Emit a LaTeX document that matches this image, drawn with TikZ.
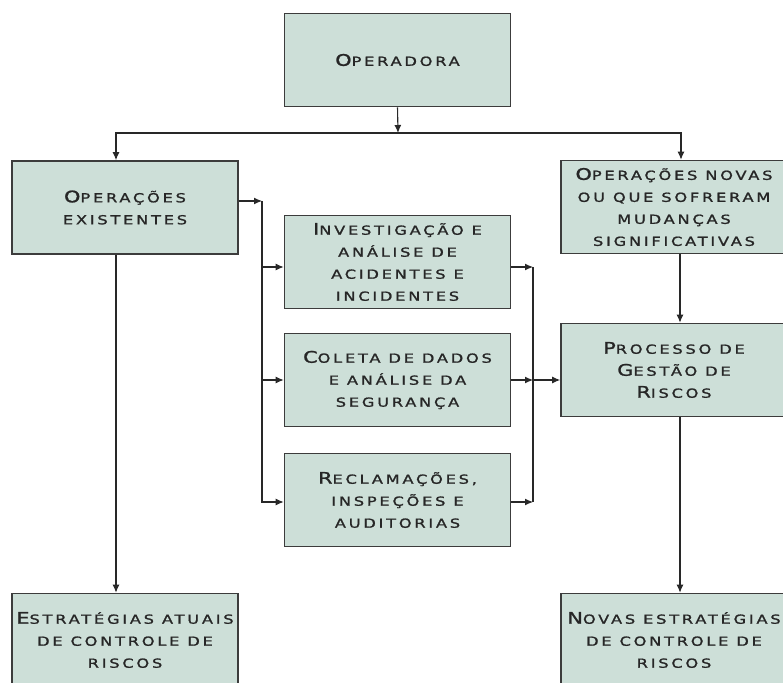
\documentclass[tikz,border=0pt]{standalone}
\usepackage{fontspec}
\usetikzlibrary{arrows.meta}
\newfontfamily\diafont[LetterSpace=22,FakeStretch=1.3,FakeBold=1.3]{DejaVu Sans}
\definecolor{boxFill}{RGB}{205, 223, 216}
\definecolor{boxLine}{RGB}{60, 60, 60}
\definecolor{wireLine}{RGB}{40, 40, 40}
\newcommand{\bigc}[1]{{\fontsize{16}{22}\selectfont #1}}

\begin{document}
\begin{tikzpicture}[x=1pt, y=1pt, >={Latex[length=8pt,width=7pt]}]

  % Canvas (the right and bottom boxes run off the edge)
  \clip (0,0) rectangle (783,682);

  \tikzset{
    stage/.style={
      draw=boxLine, line width=1.6pt, fill=boxFill,
      minimum width=226, minimum height=93, inner sep=0pt,
      align=center, text=black!85,
      font=\diafont\fontsize{12.5}{22}\selectfont
    },
    wire/.style={draw=wireLine, line width=1.1pt},
    arr/.style={wire, ->}
  }

  % --- top and the two columns ---
  \node[stage] (op)    at (397.5, 622) {\bigc{O}PERADORA};
  \node[stage] (exist) at (125, 474.5) {\bigc{O}PERAÇÕES\\EXISTENTES};
  \node[stage] (novas) at (674, 475)   {\bigc{O}PERAÇÕES NOVAS\\OU QUE SOFRERAM\\MUDANÇAS\\SIGNIFICATIVAS};

  % --- middle column ---
  \node[stage] (inv) at (397.5, 420) {\bigc{I}NVESTIGAÇÃO E\\ANÁLISE DE\\ACIDENTES E\\INCIDENTES};
  \node[stage] (col) at (397.5, 302) {\bigc{C}OLETA DE DADOS\\E ANÁLISE DA\\SEGURANÇA};
  \node[stage] (rec) at (397.5, 182) {\bigc{R}ECLAMAÇÕES,\\INSPEÇÕES E\\AUDITORIAS};

  % --- risk process and results ---
  \node[stage] (proc)  at (674, 312) {\bigc{P}ROCESSO DE\\\bigc{G}ESTÃO DE\\\bigc{R}ISCOS};
  \node[stage] (atual) at (125, 42)  {\bigc{E}STRATÉGIAS ATUAIS\\DE CONTROLE DE\\RISCOS};
  \node[stage] (nova)  at (674, 42)  {\bigc{N}OVAS ESTRATÉGIAS\\DE CONTROLE DE\\RISCOS};

  % Split under the operator box
  \coordinate (split) at (398, 549);
  \draw[arr] (op.south) -- (split);
  \draw[arr] (split) -| ([xshift=-9pt]exist.north);
  \draw[arr] (split) -| ([xshift=7pt]novas.north);

  % Left column straight down
  \draw[arr] ([xshift=-9pt]exist.south) -- ([xshift=-9pt]exist.south |- atual.north);

  % Left bus into the three middle boxes
  \coordinate (busL) at (262, 481);
  \draw[arr] (exist.east |- busL) -- (busL);
  \draw[arr] (busL) |- ([yshift=-2pt]rec.west);
  \draw[arr] (busL |- inv.west) ++(0,-5) -- ([yshift=-5pt]inv.west);
  \draw[arr] (busL |- col.west) -- (col.west);

  % Right bus out of the middle boxes
  \coordinate (busR) at (533, 415);
  \draw[arr] ([yshift=-5pt]inv.east) -- (busR);
  \draw[arr] (col.east) -- (col.east -| busR);
  \draw[arr] ([yshift=-2pt]rec.east) -- ([yshift=-2pt]rec.east -| busR);
  \draw[wire] (busR) -- ([yshift=-2pt]rec.east -| busR);
  \draw[arr] (col.east -| busR) -- (col.east -| proc.west);

  % Right column straight down
  \draw[arr] ([xshift=6pt]novas.south) -- ([xshift=6pt]novas.south |- proc.north);
  \draw[arr] ([xshift=6pt]proc.south) -- ([xshift=6pt]proc.south |- nova.north);

\end{tikzpicture}
\end{document}
